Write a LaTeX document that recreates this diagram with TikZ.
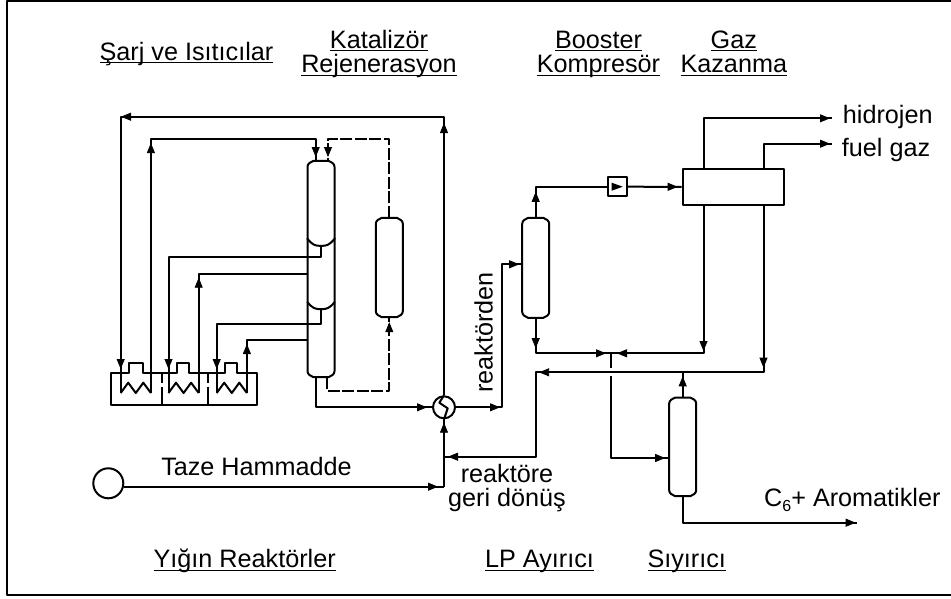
\documentclass[tikz,border=0pt]{standalone}
\usepackage{fontspec}
\setmainfont{Liberation Sans}
\usepackage{xcolor}
\usepackage{tikz}
\usetikzlibrary{decorations.markings, arrows.meta, calc}

\tikzset{
  pipe/.style={line width=2pt, line join=round},
  dashpipe/.style={pipe, dash pattern=on 12pt off 2.5pt},
  tip/.style={postaction={decorate, decoration={markings,
    mark=at position #1 with {\arrow[line width=.8pt, solid]{Triangle[length=10pt,width=8pt]}}}}},
  vesselbox/.style={rectangle, inner sep=0pt, minimum width=26.6pt},
  lbl/.style={font=\fontsize{25.2}{24.7}\selectfont, inner sep=0pt, anchor=base, align=center}
}

\newcommand{\ulin}[1]{\setbox0\hbox{#1}\copy0\llap{\rule[-3.4pt]{\wd0}{1.5pt}}}
\newcommand{\tophead}[1]{($(#1.north west)+(0,6)$) .. controls +(0,-3) and +(-3,1) .. ($(#1.north west)+(6,0)$) -- ($(#1.north east)+(-6,0)$) .. controls +(3,1) and +(0,-3) .. ($(#1.north east)+(0,6)$)}
\newcommand{\flatfoot}[1]{($(#1.south east)+(0,-6)$) .. controls +(0,3) and +(3,-1) .. ($(#1.south east)+(-6,0)$) -- ($(#1.south west)+(6,0)$) .. controls +(-3,-1) and +(0,3) .. ($(#1.south west)+(0,-6)$)}
\newcommand{\dishfoot}[1]{($(#1.south east)+(0,-7)$) .. controls +(-5,6) and +(6,0) .. (#1.south) .. controls +(-6,0) and +(5,6) .. ($(#1.south west)+(0,-7)$)}
\newcommand{\vesselnode}[4]{\node[vesselbox, minimum height={(#4-#3)*1pt}] (#1) at (#2,{(#3+#4)/2}) {};}

\begin{document}
\begin{tikzpicture}[x=1pt, y=-1pt]
\useasboundingbox (0,0) rectangle (951,598);
\draw[pipe] (7.3,1) rectangle (953,595);

% vessels
\vesselnode{rcta}{321}{161}{245.7}
\vesselnode{rctb}{321}{238}{309}
\vesselnode{rctc}{321}{302}{377}
\vesselnode{regen}{389.3}{218}{317}
\vesselnode{sep}{535.7}{218}{317.7}
\vesselnode{strip}{682.7}{397.7}{496}
\draw[pipe] \tophead{rcta} -- \dishfoot{rcta} -- cycle;
\draw[pipe] (rctb.north east) -- \dishfoot{rctb} -- (rctb.north west);
\draw[pipe] (rctc.north east) -- \flatfoot{rctc} -- (rctc.north west);
\draw[pipe] \tophead{regen} -- \flatfoot{regen} -- cycle;
\draw[pipe] \tophead{sep} -- \flatfoot{sep} -- cycle;
\draw[pipe] \tophead{strip} -- \flatfoot{strip} -- cycle;

\node[rectangle, draw, pipe, inner sep=0pt, minimum width=101.6pt, minimum height=35.7pt] (gas) at (733.5,186.85) {};
\node[rectangle, draw, pipe, inner sep=0pt, minimum size=18.8pt] (comp) at (617.2,186.7) {};
\fill ($(comp.center)+(-5.5,-4)$) -- ($(comp.center)+(5.5,0)$) -- ($(comp.center)+(-5.5,4)$) -- cycle;
\node[circle, draw, pipe, inner sep=0pt, minimum size=22pt] (exch) at (444,407.3) {};
\node[circle, draw, pipe, inner sep=0pt, minimum size=30pt] (feed) at (108.3,483.3) {};
\draw[pipe] (exch.north) -- (439.3,402.7) -- (447.7,408.3) -- (exch.south);

% furnace
\draw[pipe] (110.7,373) -- (129,373) -- (129,362.7) -- (142.7,362.7) -- (142.7,373)
  -- (176.7,373) -- (176.7,362.7) -- (189,362.7) -- (189,373)
  -- (225,373) -- (225,362.7) -- (237,362.7) -- (237,373)
  -- (256.7,373) -- (256.7,404.7) -- (110.7,404.7) -- cycle;
\foreach \wall in {161.5,208} {
  \draw[pipe] (\wall,373) -- (\wall,383);
  \draw[pipe] (\wall,386.7) -- (\wall,404.7);
}
\foreach \cell/\xo in {a/0,b/47.8,c/96} {
  \coordinate (in\cell) at ({120.7+\xo},393);
  \coordinate (out\cell) at ({150.9+\xo},393);
  \draw[pipe] (in\cell) -- ({128.2+\xo},382.7) -- ({135.8+\xo},393) -- ({143.3+\xo},382.7) -- (out\cell);
}

% loop through the reactors
\draw[pipe, tip=272.3pt, tip=601.6pt, tip=-24pt] (exch.north) -- (444,116.7) -| (ina);
\draw[pipe, tip=250pt, tip=-4pt] (outa) |- (315.7,138.7) -- (315.7,161);
\draw[pipe, tip=-24pt] (rcta.south) |- (inb |- 0,256.7) -- (inb);
\draw[pipe, tip=115.3pt] (outb) |- (rctb.west);
\draw[pipe, tip=-24pt] (rctb.south) |- (inc |- 0,324) -- (inc);
\draw[pipe, tip=49pt] (outc) |- (rctc.west);
\draw[pipe, tip=-5pt] (315.7,377) |- (exch.west);

% catalyst
\draw[dashpipe, tip=-4pt] (regen.north) |- (328,138.7) -- (328,161);
\draw[dashpipe, tip=-5pt] (327,377) |- (regen.south |- 0,390.7) -- (regen.south);

% recovery section
\coordinate (sepin) at (sep.west |- 0,264.3);
\coordinate (junc) at (611,353.3);
\coordinate (stripin) at (strip.west |- 0,458);
\coordinate (hout) at (832,118.3);
\coordinate (fout) at (832,143.7);
\coordinate (arom) at (856.7,522.7);
\coordinate (feedj) at (444,486.7);
\draw[pipe, tip=44pt, tip=-3pt] (exch.east) -- (502,407.3) |- (sepin);
\draw[pipe, tip=26pt] (sep.north) |- (comp.west);
\draw[pipe, tip=-4pt] (comp.east) -- (gas.west);
\draw[pipe, tip=-2pt] ([xshift=-30pt]gas.north) |- (hout);
\draw[pipe, tip=-2pt] ([xshift=30pt]gas.north) |- (fout);
\draw[pipe, tip=145.3pt, tip=-6pt] ([xshift=-30pt]gas.south) |- (junc);
\draw[pipe, tip=30.3pt, tip=-5pt] (sep.south) |- (junc);
\draw[pipe] (junc) -- (611,368);
\draw[pipe, tip=-4pt] (611,376) |- (stripin);
\draw[pipe, tip=162pt, tip=391pt, tip=-4pt] ([xshift=30pt]gas.south) |- (536,372.3) |- (feedj |- 0,456.7);
\draw[pipe, tip=-4pt] (strip.north) -- (strip.north |- 0,372.3);
\draw[pipe, tip=-1pt] (strip.south) |- (arom);
\draw[pipe, tip=-6pt] ([yshift=-3.4pt]feed.east) -- (feedj);
\draw[pipe, tip=-3.4pt] (feedj) -- (exch.south);

% labels
\node[lbl] (lblsarj) at (186.5,60) {\ulin{Şarj ve Isıtıcılar}};
\node[lbl] (lblkat) at (379,72.7) {\ulin{Katalizör}\\\ulin{Rejenerasyon}};
\node[lbl] (lblboost) at (598.5,72.7) {\ulin{Booster}\\\ulin{Kompresör}};
\node[lbl] (lblgaz) at (733.8,72.7) {\ulin{Gaz}\\\ulin{Kazanma}};
\node[lbl, anchor=base west] (lblh) at (842.7,123.3) {hidrojen};
\node[lbl, anchor=base west] (lblf) at (841.7,156) {fuel gaz};
\node[lbl] (lbltaze) at (256.5,475) {Taze Hammadde};
\node[lbl, rotate=90] (lblfrom) at (492.7,332.5) {reaktörden};
\node[lbl] (lblback) at (507,506.7) {reaktöre\\geri dönüş};
\node[lbl, anchor=base west] (lblarom) at (764,506.7) {C\raisebox{-5pt}{\fontsize{16}{16}\selectfont 6}+ Aromatikler};
\node[lbl] (lblyigin) at (244.7,567.7) {\ulin{Yığın Reaktörler}};
\node[lbl] (lbllp) at (539.5,567.7) {\ulin{LP Ayırıcı}};
\node[lbl] (lblsiy) at (686.7,567.7) {\ulin{Sıyırıcı}};
\end{tikzpicture}
\end{document}
